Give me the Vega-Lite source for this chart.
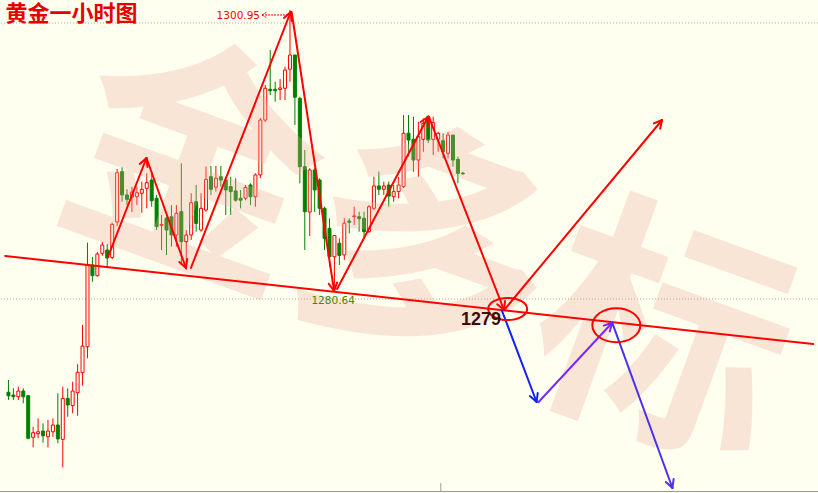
{
  "$schema": "https://vega.github.io/schema/vega-lite/v6.json",
  "width": 818,
  "height": 493,
  "autosize": "none",
  "padding": 0,
  "background": "#fffff0",
  "config": {"view": {"stroke": null}},
  "resolve": {"scale": {"color": "independent"}},
  "datasets": {
    "candles": [
      {"x":0,"o":1273.24,"h":1274.13,"l":1272.68,"c":1272.99,"d":"down"},
      {"x":1,"o":1273.04,"h":1273.53,"l":1272.68,"c":1272.92,"d":"down"},
      {"x":2,"o":1272.92,"h":1273.65,"l":1272.68,"c":1273.33,"d":"up"},
      {"x":3,"o":1273.33,"h":1273.53,"l":1272.44,"c":1272.92,"d":"down"},
      {"x":4,"o":1272.99,"h":1273.05,"l":1269.83,"c":1269.91,"d":"down"},
      {"x":5,"o":1269.98,"h":1270.75,"l":1269.25,"c":1270.31,"d":"up"},
      {"x":6,"o":1270.24,"h":1271.35,"l":1269.91,"c":1270.38,"d":"up"},
      {"x":7,"o":1270.43,"h":1270.99,"l":1269.59,"c":1270.09,"d":"down"},
      {"x":8,"o":1270.02,"h":1271.23,"l":1269.25,"c":1270.43,"d":"up"},
      {"x":9,"o":1270.38,"h":1271.35,"l":1270.02,"c":1270.87,"d":"up"},
      {"x":10,"o":1270.87,"h":1273.17,"l":1269.54,"c":1269.86,"d":"down"},
      {"x":11,"o":1269.83,"h":1273.65,"l":1267.8,"c":1272.8,"d":"up"},
      {"x":12,"o":1272.8,"h":1273.53,"l":1271.47,"c":1272.32,"d":"down"},
      {"x":13,"o":1272.27,"h":1274.01,"l":1271.72,"c":1273.33,"d":"up"},
      {"x":14,"o":1273.21,"h":1275.27,"l":1271.54,"c":1274.69,"d":"up"},
      {"x":15,"o":1274.66,"h":1278.12,"l":1273.72,"c":1276.59,"d":"up"},
      {"x":16,"o":1276.54,"h":1284.08,"l":1275.7,"c":1282.46,"d":"up"},
      {"x":17,"o":1282.46,"h":1283.04,"l":1281.25,"c":1281.69,"d":"down"},
      {"x":18,"o":1281.69,"h":1283.41,"l":1281.62,"c":1283.26,"d":"up"},
      {"x":19,"o":1283.31,"h":1284.15,"l":1283.12,"c":1283.91,"d":"up"},
      {"x":20,"o":1283.55,"h":1283.99,"l":1282.34,"c":1282.97,"d":"down"},
      {"x":21,"o":1283.01,"h":1285.53,"l":1282.88,"c":1285.41,"d":"up"},
      {"x":22,"o":1285.58,"h":1289.42,"l":1285.29,"c":1289.15,"d":"up"},
      {"x":23,"o":1289.23,"h":1289.54,"l":1287.05,"c":1287.54,"d":"down"},
      {"x":24,"o":1287.54,"h":1287.95,"l":1286.81,"c":1287.22,"d":"down"},
      {"x":25,"o":1287.39,"h":1288.12,"l":1286.3,"c":1287.75,"d":"up"},
      {"x":26,"o":1287.41,"h":1288.14,"l":1286.81,"c":1287.7,"d":"up"},
      {"x":27,"o":1287.66,"h":1288.5,"l":1286.25,"c":1287.95,"d":"up"},
      {"x":28,"o":1288.02,"h":1289.11,"l":1286.57,"c":1288.43,"d":"up"},
      {"x":29,"o":1288.62,"h":1289.22,"l":1286.69,"c":1287.12,"d":"down"},
      {"x":30,"o":1287.3,"h":1287.54,"l":1285.0,"c":1285.24,"d":"down"},
      {"x":31,"o":1285.34,"h":1286.09,"l":1283.55,"c":1285.41,"d":"up"},
      {"x":32,"o":1285.85,"h":1285.96,"l":1283.19,"c":1285.0,"d":"down"},
      {"x":33,"o":1285.96,"h":1286.81,"l":1283.79,"c":1284.64,"d":"down"},
      {"x":34,"o":1284.64,"h":1286.81,"l":1283.79,"c":1286.21,"d":"up"},
      {"x":35,"o":1286.33,"h":1289.83,"l":1282.46,"c":1284.15,"d":"down"},
      {"x":36,"o":1284.15,"h":1285.0,"l":1282.1,"c":1284.64,"d":"up"},
      {"x":37,"o":1284.64,"h":1287.66,"l":1284.28,"c":1286.98,"d":"up"},
      {"x":38,"o":1287.05,"h":1288.26,"l":1284.88,"c":1285.48,"d":"down"},
      {"x":39,"o":1285.0,"h":1287.66,"l":1284.88,"c":1286.57,"d":"up"},
      {"x":40,"o":1286.45,"h":1289.59,"l":1286.33,"c":1288.67,"d":"up"},
      {"x":41,"o":1288.86,"h":1289.64,"l":1287.54,"c":1287.95,"d":"down"},
      {"x":42,"o":1288.1,"h":1289.64,"l":1287.78,"c":1288.75,"d":"up"},
      {"x":43,"o":1288.86,"h":1289.64,"l":1288.14,"c":1288.62,"d":"down"},
      {"x":44,"o":1288.62,"h":1288.86,"l":1286.09,"c":1287.9,"d":"down"},
      {"x":45,"o":1288.14,"h":1288.86,"l":1286.09,"c":1287.78,"d":"down"},
      {"x":46,"o":1287.83,"h":1288.75,"l":1287.05,"c":1287.16,"d":"down"},
      {"x":47,"o":1287.3,"h":1287.9,"l":1286.57,"c":1287.16,"d":"down"},
      {"x":48,"o":1287.3,"h":1288.26,"l":1287.16,"c":1288.09,"d":"up"},
      {"x":49,"o":1288.26,"h":1288.38,"l":1286.81,"c":1287.41,"d":"down"},
      {"x":50,"o":1287.41,"h":1289.11,"l":1286.69,"c":1288.99,"d":"up"},
      {"x":51,"o":1288.99,"h":1293.12,"l":1288.77,"c":1292.97,"d":"up"},
      {"x":52,"o":1292.97,"h":1295.51,"l":1292.83,"c":1295.27,"d":"up"},
      {"x":53,"o":1295.2,"h":1298.04,"l":1294.78,"c":1295.09,"d":"down"},
      {"x":54,"o":1295.2,"h":1295.75,"l":1294.3,"c":1295.09,"d":"down"},
      {"x":55,"o":1295.18,"h":1295.94,"l":1294.42,"c":1295.29,"d":"up"},
      {"x":56,"o":1295.27,"h":1296.83,"l":1294.42,"c":1296.59,"d":"up"},
      {"x":57,"o":1296.65,"h":1300.95,"l":1295.75,"c":1297.68,"d":"up"},
      {"x":58,"o":1297.68,"h":1297.7,"l":1292.61,"c":1294.62,"d":"down"},
      {"x":59,"o":1294.54,"h":1294.66,"l":1288.38,"c":1289.59,"d":"down"},
      {"x":60,"o":1289.59,"h":1290.8,"l":1283.55,"c":1286.33,"d":"down"},
      {"x":61,"o":1286.3,"h":1289.47,"l":1284.57,"c":1289.35,"d":"up"},
      {"x":62,"o":1289.35,"h":1289.47,"l":1286.3,"c":1287.9,"d":"down"},
      {"x":63,"o":1288.62,"h":1288.75,"l":1286.09,"c":1286.57,"d":"down"},
      {"x":64,"o":1286.57,"h":1286.69,"l":1283.55,"c":1284.4,"d":"down"},
      {"x":65,"o":1285.12,"h":1285.85,"l":1282.34,"c":1283.06,"d":"down"},
      {"x":66,"o":1283.06,"h":1284.64,"l":1280.64,"c":1284.6,"d":"up"},
      {"x":67,"o":1284.04,"h":1284.4,"l":1282.46,"c":1283.15,"d":"down"},
      {"x":68,"o":1283.19,"h":1285.85,"l":1282.83,"c":1285.49,"d":"up"},
      {"x":69,"o":1285.65,"h":1285.85,"l":1284.76,"c":1285.56,"d":"down"},
      {"x":70,"o":1285.96,"h":1286.69,"l":1285.36,"c":1286.02,"d":"up"},
      {"x":71,"o":1285.96,"h":1286.33,"l":1284.88,"c":1285.82,"d":"down"},
      {"x":72,"o":1285.85,"h":1286.33,"l":1284.4,"c":1284.88,"d":"down"},
      {"x":73,"o":1284.88,"h":1286.81,"l":1284.78,"c":1286.69,"d":"up"},
      {"x":74,"o":1286.57,"h":1288.86,"l":1286.45,"c":1288.19,"d":"up"},
      {"x":75,"o":1288.19,"h":1289.23,"l":1287.54,"c":1287.95,"d":"down"},
      {"x":76,"o":1287.95,"h":1288.5,"l":1287.54,"c":1288.19,"d":"up"},
      {"x":77,"o":1288.26,"h":1288.5,"l":1286.69,"c":1287.46,"d":"down"},
      {"x":78,"o":1287.41,"h":1288.26,"l":1287.05,"c":1287.78,"d":"up"},
      {"x":79,"o":1287.78,"h":1288.86,"l":1287.3,"c":1288.26,"d":"up"},
      {"x":80,"o":1288.14,"h":1293.33,"l":1288.04,"c":1292.01,"d":"up"},
      {"x":81,"o":1292.01,"h":1293.33,"l":1290.31,"c":1291.52,"d":"down"},
      {"x":82,"o":1291.57,"h":1293.21,"l":1289.22,"c":1290.07,"d":"down"},
      {"x":83,"o":1290.07,"h":1292.85,"l":1288.86,"c":1291.76,"d":"up"},
      {"x":84,"o":1291.57,"h":1293.09,"l":1290.67,"c":1292.73,"d":"up"},
      {"x":85,"o":1293.21,"h":1293.33,"l":1291.3,"c":1291.52,"d":"down"},
      {"x":86,"o":1291.57,"h":1293.21,"l":1290.44,"c":1292.78,"d":"up"},
      {"x":87,"o":1291.57,"h":1292.12,"l":1290.67,"c":1292.01,"d":"up"},
      {"x":88,"o":1291.47,"h":1292.01,"l":1290.19,"c":1290.67,"d":"down"},
      {"x":89,"o":1290.56,"h":1292.12,"l":1290.19,"c":1291.88,"d":"up"},
      {"x":90,"o":1291.88,"h":1291.88,"l":1289.59,"c":1290.07,"d":"down"},
      {"x":91,"o":1290.12,"h":1290.31,"l":1288.38,"c":1289.11,"d":"down"},
      {"x":92,"o":1289.13,"h":1289.2,"l":1288.98,"c":1289.08,"d":"down"}
    ],
    "segs": [
      {"x":-0.66,"y":1283.116,"x2":162.94,"y2":1276.739,"kind":"trend"},
      {"x":20.14,"y":1283.044,"x2":27.94,"y2":1290.218,"kind":"red"},
      {"x":27.94,"y":1290.218,"x2":26.58,"y2":1289.79,"kind":"red"},
      {"x":27.94,"y":1290.218,"x2":28.14,"y2":1289.573,"kind":"red"},
      {"x":27.94,"y":1290.218,"x2":35.94,"y2":1282.247,"kind":"red"},
      {"x":35.94,"y":1282.247,"x2":36.2,"y2":1282.892,"kind":"red"},
      {"x":35.94,"y":1282.247,"x2":34.6,"y2":1282.681,"kind":"red"},
      {"x":36.94,"y":1282.247,"x2":57.14,"y2":1300.797,"kind":"red"},
      {"x":57.14,"y":1300.797,"x2":55.78,"y2":1300.37,"kind":"red"},
      {"x":57.14,"y":1300.797,"x2":57.34,"y2":1300.153,"kind":"red"},
      {"x":57.34,"y":1300.797,"x2":65.94,"y2":1280.58,"kind":"red"},
      {"x":65.94,"y":1280.58,"x2":66.54,"y2":1281.196,"kind":"red"},
      {"x":65.94,"y":1280.58,"x2":64.86,"y2":1281.102,"kind":"red"},
      {"x":66.54,"y":1280.725,"x2":84.94,"y2":1293.189,"kind":"red"},
      {"x":84.94,"y":1293.189,"x2":83.44,"y2":1292.826,"kind":"red"},
      {"x":84.94,"y":1293.189,"x2":84.94,"y2":1292.537,"kind":"red"},
      {"x":85.14,"y":1293.189,"x2":100.34,"y2":1279.203,"kind":"red"},
      {"x":100.34,"y":1279.203,"x2":100.54,"y2":1279.848,"kind":"red"},
      {"x":100.34,"y":1279.203,"x2":98.98,"y2":1279.624,"kind":"red"},
      {"x":100.54,"y":1279.276,"x2":132.34,"y2":1292.971,"kind":"red"},
      {"x":132.34,"y":1292.971,"x2":130.68,"y2":1292.725,"kind":"red"},
      {"x":132.34,"y":1292.971,"x2":131.96,"y2":1292.334,"kind":"red"},
      {"x":99.94,"y":1279.131,"x2":106.94,"y2":1272.537,"kind":"blue"},
      {"x":106.94,"y":1272.537,"x2":107.16,"y2":1273.181,"kind":"blue"},
      {"x":106.94,"y":1272.537,"x2":105.58,"y2":1272.964,"kind":"blue"},
      {"x":107.34,"y":1272.537,"x2":122.24,"y2":1278.283,"kind":"violet"},
      {"x":122.24,"y":1278.283,"x2":120.54,"y2":1278.073,"kind":"violet"},
      {"x":122.24,"y":1278.283,"x2":121.76,"y2":1277.653,"kind":"violet"},
      {"x":122.24,"y":1278.283,"x2":134.44,"y2":1266.305,"kind":"blue2"},
      {"x":134.44,"y":1266.305,"x2":134.68,"y2":1266.95,"kind":"blue2"},
      {"x":134.44,"y":1266.305,"x2":133.1,"y2":1266.739,"kind":"blue2"}
    ]
  },
  "layer": [
    {
      "data": {"values": [{"y": 1300}, {"y": 1280}]},
      "mark": {"type": "rule", "color": "#a8a8a8", "strokeWidth": 1, "strokeDash": [1, 2]},
      "encoding": {
        "y": {"field": "y", "type": "quantitative", "scale": {"domain": [1265.942, 1301.667], "nice": false, "zero": false}, "axis": null}
      }
    },
    {
      "data": {"values": [{"y": 1266.05}]},
      "mark": {"type": "rule", "color": "#9a9a9a", "strokeWidth": 1},
      "encoding": {
        "y": {"field": "y", "type": "quantitative", "scale": {"domain": [1265.942, 1301.667], "nice": false, "zero": false}, "axis": null}
      }
    },
    {
      "data": {"values": [{"x": 87.54, "y": 1266.09, "y2": 1266.67}]},
      "mark": {"type": "rule", "color": "#9a9a9a", "strokeWidth": 1},
      "encoding": {
        "x": {"field": "x", "type": "quantitative", "scale": {"domain": [-0.7, 162.9], "nice": false, "zero": false}, "axis": null},
        "y": {"field": "y", "type": "quantitative", "scale": {"domain": [1265.942, 1301.667], "nice": false, "zero": false}, "axis": null},
        "y2": {"field": "y2"}
      }
    },
    {
      "data": {"name": "candles"},
      "mark": {"type": "rule", "strokeWidth": 1},
      "encoding": {
        "x": {"field": "x", "type": "quantitative", "scale": {"domain": [-0.7, 162.9], "nice": false, "zero": false}, "axis": null},
        "y": {"field": "l", "type": "quantitative", "scale": {"domain": [1265.942, 1301.667], "nice": false, "zero": false}, "axis": null},
        "y2": {"field": "h"},
        "color": {"field": "d", "type": "nominal", "scale": {"domain": ["up", "down"], "range": ["#ff0000", "#008000"]}, "legend": null}
      }
    },
    {
      "data": {"name": "candles"},
      "mark": {"type": "bar", "width": 3, "strokeWidth": 1, "opacity": 1},
      "encoding": {
        "x": {"field": "x", "type": "quantitative", "scale": {"domain": [-0.7, 162.9], "nice": false, "zero": false}, "axis": null},
        "y": {"field": "o", "type": "quantitative", "scale": {"domain": [1265.942, 1301.667], "nice": false, "zero": false}, "axis": null},
        "y2": {"field": "c"},
        "fill": {"field": "d", "type": "nominal", "scale": {"domain": ["up", "down"], "range": ["#fffff0", "#008000"]}, "legend": null},
        "stroke": {"field": "d", "type": "nominal", "scale": {"domain": ["up", "down"], "range": ["#ff0000", "#008000"]}, "legend": null}
      }
    },
    {
      "data": {"values": [{"x": 84.34, "y": 1282.68, "t": "金多标"}]},
      "mark": {"type": "text", "font": "Noto Sans CJK SC", "fontWeight": "bold", "fontSize": 250, "angle": 20, "align": "center", "baseline": "middle", "color": "#eeac9d", "opacity": 0.3},
      "encoding": {
        "x": {"field": "x", "type": "quantitative", "scale": {"domain": [-0.7, 162.9], "nice": false, "zero": false}, "axis": null},
        "y": {"field": "y", "type": "quantitative", "scale": {"domain": [1265.942, 1301.667], "nice": false, "zero": false}, "axis": null},
        "text": {"field": "t"}
      }
    },
    {
      "data": {"name": "segs"},
      "mark": {"type": "rule", "strokeWidth": 2, "strokeCap": "round"},
      "encoding": {
        "x": {"field": "x", "type": "quantitative", "scale": {"domain": [-0.7, 162.9], "nice": false, "zero": false}, "axis": null},
        "y": {"field": "y", "type": "quantitative", "scale": {"domain": [1265.942, 1301.667], "nice": false, "zero": false}, "axis": null},
        "x2": {"field": "x2"},
        "y2": {"field": "y2"},
        "color": {"field": "kind", "type": "nominal", "scale": {"domain": ["trend", "red", "blue", "violet", "blue2"], "range": ["#ff0000", "#ff0000", "#1020ff", "#7a28ff", "#4a30f5"]}, "legend": null}
      }
    },
    {
      "data": {"values": [
        {"x": 51.34, "y": 1300.58, "x2": 56.94, "y2": 1300.58},
        {"x": 51.34, "y": 1300.58, "x2": 52.34, "y2": 1300.8},
        {"x": 51.34, "y": 1300.58, "x2": 52.34, "y2": 1300.36}
      ]},
      "mark": {"type": "rule", "strokeWidth": 1, "strokeDash": [2, 1], "color": "#ff0000"},
      "encoding": {
        "x": {"field": "x", "type": "quantitative", "scale": {"domain": [-0.7, 162.9], "nice": false, "zero": false}, "axis": null},
        "y": {"field": "y", "type": "quantitative", "scale": {"domain": [1265.942, 1301.667], "nice": false, "zero": false}, "axis": null},
        "x2": {"field": "x2"},
        "y2": {"field": "y2"}
      }
    },
    {
      "data": {"values": [{"x": 101.08, "y": 1279.276}]},
      "mark": {"type": "point", "shape": "M-1,0C-1,-0.3115,-0.5523,-0.564,0,-0.564C0.5523,-0.564,1,-0.3115,1,0C1,0.3115,0.5523,0.564,0,0.564C-0.5523,0.564,-1,0.3115,-1,0Z", "size": 1521, "filled": false, "stroke": "#ff0000", "strokeWidth": 2, "opacity": 1},
      "encoding": {
        "x": {"field": "x", "type": "quantitative", "scale": {"domain": [-0.7, 162.9], "nice": false, "zero": false}, "axis": null},
        "y": {"field": "y", "type": "quantitative", "scale": {"domain": [1265.942, 1301.667], "nice": false, "zero": false}, "axis": null}
      }
    },
    {
      "data": {"values": [{"x": 123.08, "y": 1278.095}]},
      "mark": {"type": "point", "shape": "M-1,0C-1,-0.391,-0.5523,-0.708,0,-0.708C0.5523,-0.708,1,-0.391,1,0C1,0.391,0.5523,0.708,0,0.708C-0.5523,0.708,-1,0.391,-1,0Z", "size": 2304, "filled": false, "stroke": "#ff0000", "strokeWidth": 2, "opacity": 1},
      "encoding": {
        "x": {"field": "x", "type": "quantitative", "scale": {"domain": [-0.7, 162.9], "nice": false, "zero": false}, "axis": null},
        "y": {"field": "y", "type": "quantitative", "scale": {"domain": [1265.942, 1301.667], "nice": false, "zero": false}, "axis": null}
      }
    },
    {
      "data": {"values": [{"x": -0.6, "y": 1301.377, "t": "黄金一小时图"}]},
      "mark": {"type": "text", "font": "Noto Sans CJK SC", "fontWeight": "bold", "fontSize": 22, "align": "left", "baseline": "top", "color": "#e60000"},
      "encoding": {
        "x": {"field": "x", "type": "quantitative", "scale": {"domain": [-0.7, 162.9], "nice": false, "zero": false}, "axis": null},
        "y": {"field": "y", "type": "quantitative", "scale": {"domain": [1265.942, 1301.667], "nice": false, "zero": false}, "axis": null},
        "text": {"field": "t"}
      }
    },
    {
      "data": {"values": [{"x": 50.94, "y": 1300.51, "t": "1300.95"}]},
      "mark": {"type": "text", "font": "DejaVu Sans", "fontSize": 10.5, "align": "right", "baseline": "middle", "color": "#ff0000"},
      "encoding": {
        "x": {"field": "x", "type": "quantitative", "scale": {"domain": [-0.7, 162.9], "nice": false, "zero": false}, "axis": null},
        "y": {"field": "y", "type": "quantitative", "scale": {"domain": [1265.942, 1301.667], "nice": false, "zero": false}, "axis": null},
        "text": {"field": "t"}
      }
    },
    {
      "data": {"values": [{"x": 65.74, "y": 1279.855, "t": "1280.64"}]},
      "mark": {"type": "text", "font": "DejaVu Sans", "fontSize": 10.5, "align": "center", "baseline": "middle", "color": "#3c8c00"},
      "encoding": {
        "x": {"field": "x", "type": "quantitative", "scale": {"domain": [-0.7, 162.9], "nice": false, "zero": false}, "axis": null},
        "y": {"field": "y", "type": "quantitative", "scale": {"domain": [1265.942, 1301.667], "nice": false, "zero": false}, "axis": null},
        "text": {"field": "t"}
      }
    },
    {
      "data": {"values": [{"x": 95.68, "y": 1278.48, "t": "1279"}]},
      "mark": {"type": "text", "font": "Liberation Sans", "fontWeight": "bold", "fontSize": 18, "align": "center", "baseline": "middle", "color": "#3b0d0d"},
      "encoding": {
        "x": {"field": "x", "type": "quantitative", "scale": {"domain": [-0.7, 162.9], "nice": false, "zero": false}, "axis": null},
        "y": {"field": "y", "type": "quantitative", "scale": {"domain": [1265.942, 1301.667], "nice": false, "zero": false}, "axis": null},
        "text": {"field": "t"}
      }
    }
  ]
}
